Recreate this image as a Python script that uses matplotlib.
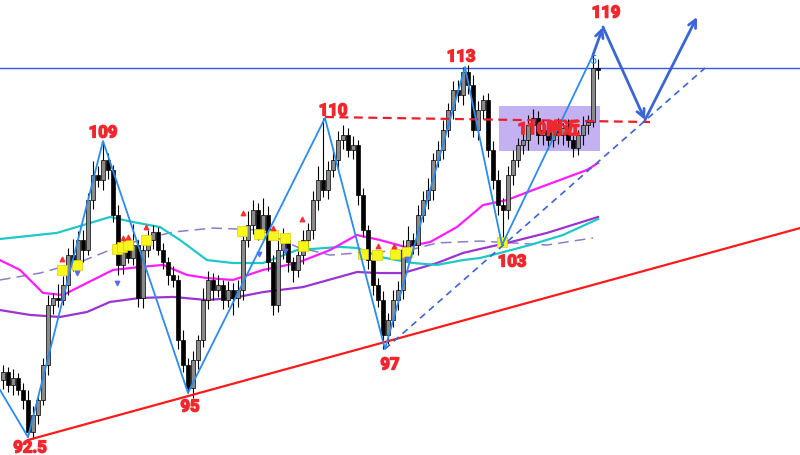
import matplotlib
matplotlib.use("Agg")
import matplotlib.pyplot as plt
import matplotlib.patheffects as pe
from matplotlib.patches import Rectangle
import numpy as np

plt.rcParams['font.family'] = ['Roboto', 'Noto Sans CJK SC', 'DejaVu Sans']

# ---- candle data (bar index, price) ----
first_open = 95.2
closes = [
    95.67, 94.92, 95.32, 94.63, 94.05, 92.20, 93.18, 94.05, 96.08, 99.54,
    99.95, 99.83, 100.70, 102.43, 102.03, 103.30, 102.72, 105.61, 107.06, 106.77,
    107.92, 107.35, 104.75, 101.86, 102.72, 102.26, 103.01, 99.95, 102.72, 103.30,
    103.76, 102.72, 102.03, 101.28, 100.99, 97.52, 96.08, 94.75, 96.36, 97.52,
    99.83, 100.99, 100.41, 100.70, 99.83, 100.41, 99.95, 100.41, 103.30, 104.17,
    105.03, 103.88, 104.75, 102.03, 99.54, 102.72, 103.30, 102.03, 101.57, 102.43,
    103.30, 103.88, 105.61, 106.77, 106.19, 107.35, 107.92, 109.08, 109.37, 108.50,
    108.79, 105.90, 103.88, 102.14, 100.70, 99.83, 97.81, 98.68, 99.83, 100.41,
    102.72, 103.30, 103.01, 104.75, 105.61, 106.19, 107.92, 108.50, 109.66, 110.82,
    111.97, 111.68, 113.01, 112.26, 109.66, 110.82, 111.39, 108.50, 106.77, 105.32,
    105.03, 107.06, 107.92, 108.79, 109.08, 109.95, 110.35, 109.37, 109.66, 109.08,
    109.77, 109.37, 109.77, 109.08, 108.62, 109.37, 109.95, 110.12, 113.24, 113.13,
]
upper_wick = [
    0.4, 0.3, 0.5, 0.3, 0.4, 0.6, 0.5, 0.3, 0.4, 0.6,
    0.3, 0.8, 0.5, 0.4, 0.9, 0.5, 0.6, 0.4, 0.8, 0.5,
    1.1, 0.4, 0.3, 0.6, 0.5, 0.4, 1.2, 0.3, 0.5, 0.6,
    0.4, 0.3, 0.4, 0.3, 0.5, 0.3, 0.6, 0.4, 0.5, 0.3,
    0.7, 0.5, 0.4, 0.6, 0.3, 0.5, 0.4, 0.6, 0.5, 0.8,
    0.6, 0.4, 1.0, 0.5, 0.4, 0.6, 0.7, 0.4, 0.3, 0.5,
    0.6, 0.4, 0.5, 0.8, 3.6, 0.5, 0.7, 0.5, 0.6, 0.4,
    0.5, 0.3, 0.4, 0.3, 0.5, 0.4, 0.5, 0.4, 0.6, 0.5,
    0.6, 0.8, 0.4, 0.6, 0.5, 0.7, 0.4, 0.5, 0.6, 0.4,
    0.5, 0.6, 0.3, 0.4, 0.6, 0.5, 0.3, 0.4, 0.5, 0.6,
    0.4, 0.5, 0.6, 0.4, 0.7, 0.6, 0.5, 0.4, 0.6, 0.5,
    0.4, 0.6, 0.3, 0.5, 0.4, 0.3, 0.5, 0.4, 0.8, 0.5,
]
lower_wick = [
    0.5, 0.4, 0.6, 0.3, 0.5, 0.3, 0.4, 0.5, 0.3, 0.6,
    0.5, 0.4, 0.3, 0.6, 0.5, 0.4, 0.7, 0.3, 0.5, 0.4,
    0.6, 0.5, 0.4, 0.6, 0.5, 0.3, 0.4, 0.5, 0.6, 0.4,
    0.5, 0.3, 0.4, 0.6, 0.4, 0.5, 0.4, 0.3, 0.6, 0.5,
    0.4, 0.5, 0.6, 0.4, 0.5, 0.4, 1.0, 0.5, 0.6, 0.4,
    0.5, 0.6, 0.4, 0.5, 0.6, 0.4, 0.5, 0.6, 0.7, 0.4,
    0.5, 0.4, 0.5, 0.6, 0.4, 0.5, 0.4, 0.6, 0.5, 0.4,
    0.5, 0.6, 0.4, 0.5, 0.6, 0.4, 0.8, 0.5, 0.4, 0.6,
    0.5, 0.4, 0.5, 0.6, 0.4, 0.5, 0.6, 0.4, 0.5, 0.4,
    0.5, 0.4, 0.6, 0.5, 0.4, 0.6, 0.5, 0.4, 0.5, 0.6,
    2.0, 0.5, 0.6, 0.4, 0.5, 0.6, 0.4, 0.5, 0.6, 0.5,
    0.4, 0.5, 0.6, 0.4, 0.5, 0.4, 0.6, 0.5, 0.3, 0.5,
]

# ---- moving averages (bar index, price) ----
ma_cyan_x = [-0.6, 10.8, 21.4, 26.0, 31.4, 35.4, 40.8, 46.0, 52.0, 58.8, 67.4, 70.8,
             75.4, 82.0, 86.8, 92.0, 95.4, 99.4, 105.4, 112.0, 119.0]
ma_cyan_y = [103.36, 103.71, 104.63, 104.34, 104.05, 103.30, 102.14, 101.97, 101.97, 102.72,
             102.90, 102.84, 102.32, 101.97, 101.86, 102.14, 102.26, 102.55, 103.01, 103.59, 104.51]
ma_magenta_x = [-0.6, 3.4, 8.0, 12.0, 16.8, 22.0, 27.4, 32.0, 36.8, 40.8, 46.0, 52.0, 58.8,
                65.4, 70.8, 75.4, 80.4, 85.4, 90.8, 96.0, 100.8, 106.0, 111.4, 116.8, 119.0]
ma_magenta_y = [102.14, 101.57, 100.24, 100.12, 100.82, 101.57, 101.74, 101.86, 101.28, 101.10,
                100.99, 101.57, 101.97, 102.72, 103.59, 103.30, 102.90, 103.18, 104.05, 105.32,
                105.61, 106.19, 106.77, 107.35, 107.75]
ma_purple_x = [-0.6, 5.4, 11.4, 16.8, 21.4, 27.4, 34.0, 40.8, 46.0, 52.0, 60.0, 70.8, 75.4,
               80.0, 86.8, 92.0, 95.4, 100.8, 108.8, 119.0]
ma_purple_y = [99.25, 98.97, 98.85, 99.14, 99.72, 99.95, 100.01, 99.83, 99.95, 100.29, 100.58,
               101.45, 101.39, 101.39, 101.97, 102.55, 102.78, 103.13, 103.71, 104.63]
ma_dash_x = [-0.6, 7.4, 15.4, 21.4, 27.4, 34.0, 42.0, 51.4, 58.8, 65.4, 70.8, 81.4, 86.8,
             95.4, 102.0, 108.8, 118.0]
ma_dash_y = [100.99, 101.39, 102.03, 102.72, 103.30, 103.76, 103.99, 103.88, 102.90, 102.43,
             102.55, 102.72, 103.13, 103.24, 103.13, 103.01, 103.42]

# ---- signal markers ----
sig_box_x = [11.8, 14.8, 22.8, 23.8, 25.0, 28.6, 47.8, 51.2, 54.0, 56.4, 60.0, 72.0, 74.8, 78.4, 80.8, 99.8]
sig_box_y = [101.57, 101.86, 102.78, 102.90, 103.01, 103.30, 103.82, 103.65, 103.59, 103.42,
             102.95, 102.49, 102.43, 102.49, 102.61, 103.18]
sig_up_x = [11.8, 24.0, 25.0, 28.6, 48.0, 54.0, 59.8, 75.0, 78.2]
sig_up_y = [102.20, 103.42, 103.47, 104.05, 104.86, 103.99, 104.51, 102.95, 102.95]
sig_dn_x = [14.8, 22.8, 51.2, 56.4, 80.8]
sig_dn_y = [101.39, 100.82, 102.49, 102.66, 102.20]

# ---- wave structure ----
zz_x = [-0.6, 5.0, 20.0, 37.0, 64.4, 76.4, 92.4, 99.8, 118.0]
zz_y = [94.63, 91.91, 109.02, 94.46, 110.35, 97.0, 113.30, 103.01, 114.0]
proj_x = [118.0, 120.0, 128.4, 138.8]
proj_y = [114.0, 115.61, 110.24, 116.19]
wave_labels = ['92.5', '109', '95', '110', '97', '113', '103', '119']
label_x = [5.4, 20.0, 37.4, 66.0, 77.4, 91.6, 101.8, 120.6]
label_y = [91.28, 109.49, 93.65, 110.76, 96.08, 113.88, 102.03, 116.42]

resistance = 113.24
trend_x, trend_y = [5.0, 159.4], [91.74, 103.99]
level_x, level_y = [64.4, 129.4], [110.41, 110.12]
support_x, support_y = [76.4, 140.4], [97.0, 113.24]
zone_x, zone_y = [99.2, 119.4], [108.45, 111.05]
zone_text = '110附近'

fig = plt.figure(figsize=(8, 4.55), dpi=100)
ax = fig.add_axes([0, 0, 1, 1])
ax.set_xlim(-0.6, 159.4)
ax.set_ylim(90.873, 117.173)
ax.axis('off')

# zone box
ax.add_patch(Rectangle((zone_x[0], zone_y[0]), zone_x[1] - zone_x[0], zone_y[1] - zone_y[0],
                       facecolor='#b197ee', alpha=0.75, edgecolor='none', zorder=1))

# moving averages
ax.plot(ma_dash_x, ma_dash_y, color='#8a7fc6', lw=1.1, ls=(0, (7, 4)), zorder=2)
ax.plot(ma_purple_x, ma_purple_y, color='#9b34d0', lw=1.6, zorder=2)
ax.plot(ma_cyan_x, ma_cyan_y, color='#1ec8c8', lw=1.6, zorder=2)
ax.plot(ma_magenta_x, ma_magenta_y, color='#ff1cff', lw=1.6, zorder=2)

# candles
opens = [first_open] + closes[:-1]
idx = np.arange(len(closes))
for i in idx:
    o, c = opens[i], closes[i]
    hi = max(o, c) + upper_wick[i]
    lo = min(o, c) - lower_wick[i]
    ax.vlines(i, lo, hi, color='black', lw=0.8, zorder=3)
    fc = '#8a8a8a' if c >= o else 'black'
    ax.bar(i, max(abs(c - o), 0.06), bottom=min(o, c), width=0.62, color=fc,
           edgecolor='black', linewidth=0.5, zorder=4)

# signal markers
ax.scatter(sig_box_x, sig_box_y, marker='s', s=55, color='#f7f71e', edgecolor='#e0d000',
           linewidth=0.5, zorder=5)
ax.scatter(sig_up_x, sig_up_y, marker='^', s=10, color='#ff3030', zorder=5)
ax.scatter(sig_dn_x, sig_dn_y, marker='v', s=10, color='#5b6cf0', zorder=5)

# lines
ax.axhline(resistance, color='#3b56e6', lw=1.0, zorder=2)
ax.plot(trend_x, trend_y, color='#ff1a1a', lw=1.6, zorder=6)
ax.plot(level_x, level_y, color='#ee1c25', lw=1.6, ls=(0, (4, 2.5)), zorder=6)
ax.plot(support_x, support_y, color='#3d63d6', lw=1.2, ls=(0, (4, 3)), zorder=6)
ax.plot(zz_x, zz_y, color='#2a8cf0', lw=1.3, zorder=6)
ax.text(zz_x[-1] - 0.1, 113.7, '5', color='#2a8cf0', fontsize=9, ha='center', va='center',
        zorder=7)

# projected path
for k in range(len(proj_x) - 1):
    ax.annotate('', xy=(proj_x[k + 1], proj_y[k + 1]), xytext=(proj_x[k], proj_y[k]),
                arrowprops=dict(arrowstyle='->', color='#3b64d6', lw=2.0,
                                mutation_scale=14, shrinkA=0, shrinkB=0), zorder=7)

bold = [pe.withStroke(linewidth=1.1, foreground='#f0282d')]
for t, x, y in zip(wave_labels, label_x, label_y):
    ax.text(x, y, t, color='#f0282d', fontsize=12, fontweight='bold', ha='center', va='center',
            zorder=8, path_effects=bold)
ax.text((zone_x[0] + zone_x[1]) / 2 - 0.2, 109.72, zone_text, color='#f0282d', fontsize=12,
        fontweight='bold', ha='center', va='center', zorder=8, path_effects=bold)

fig.savefig('out.png', dpi=100, facecolor='white')
